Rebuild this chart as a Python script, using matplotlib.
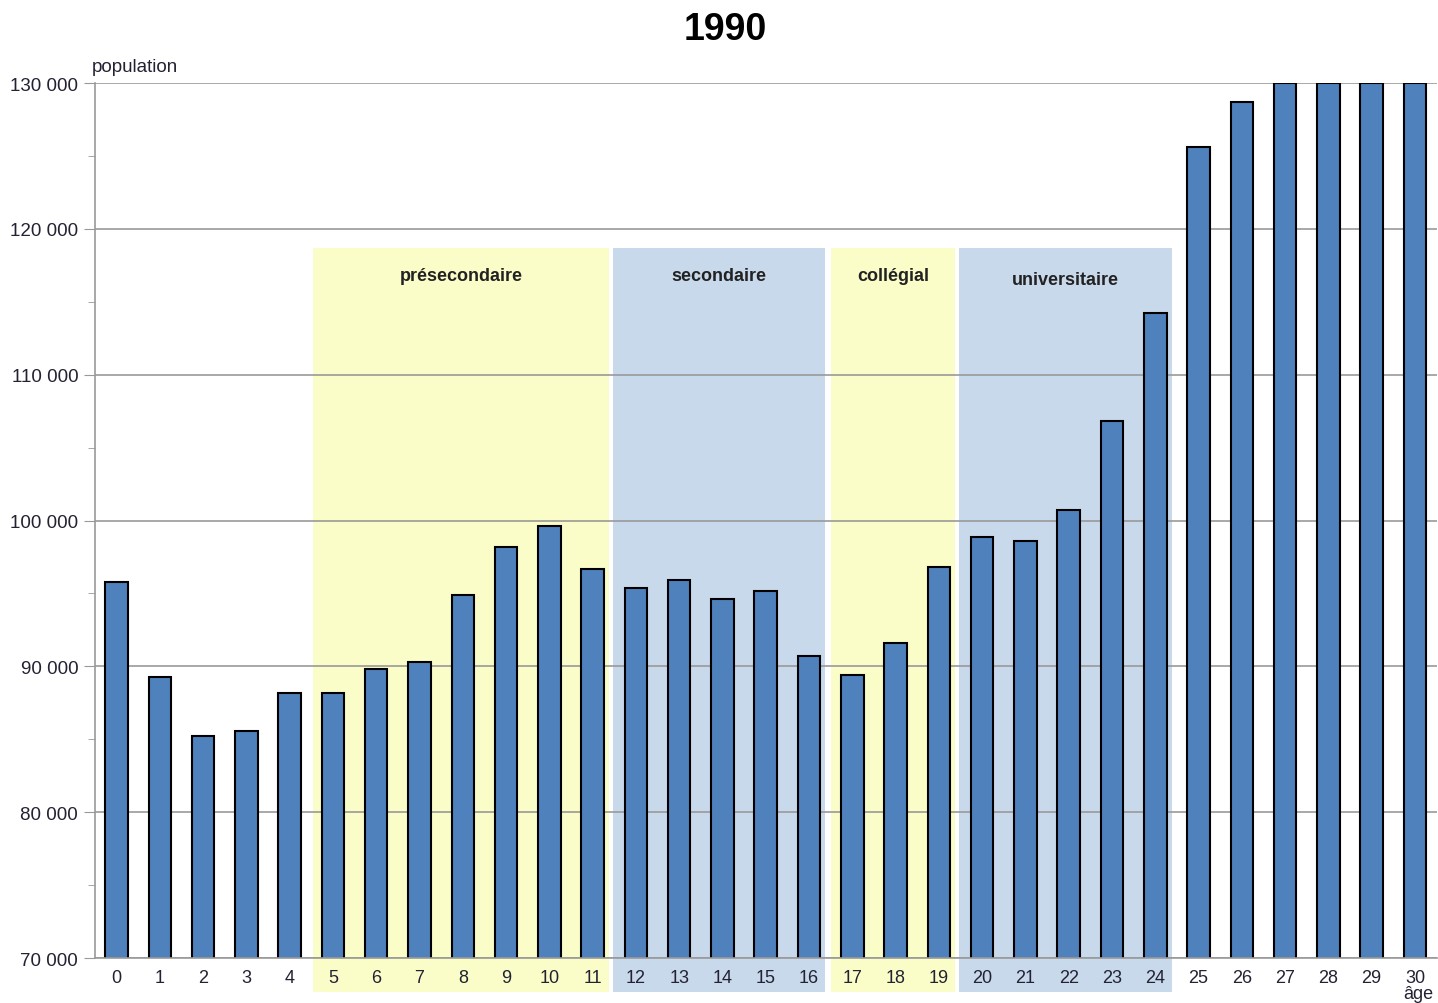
import matplotlib
matplotlib.use('Agg')
from matplotlib import pyplot as plt
from matplotlib.patches import Rectangle
from matplotlib.ticker import FuncFormatter, MultipleLocator

# data (population per age, 1990)
ages = list(range(31))
population = [95800, 89300, 85200, 85600, 88200, 88200, 89800, 90300, 94900,
              98200, 99600, 96700, 95400, 95900, 94600, 95200, 90700, 89400,
              91600, 96800, 98900, 98600, 100700, 106800, 114200, 125600,
              128700, 130000, 130000, 130000, 130000]

# school levels: label, first age, last age
levels = ['présecondaire', 'secondaire', 'collégial', 'universitaire']
level_start = [5, 12, 17, 20]
level_end = [11, 16, 19, 24]
level_colors = ['#fbfdc8', '#c9d9ec', '#fbfdc8', '#c9d9ec']
# how far each band reaches before the first bar
left_pad = [0.45, 0.54, 0.5, 0.54]

plt.rcParams['font.family'] = ['Liberation Sans', 'DejaVu Sans']

fig = plt.figure(figsize=(14.38, 10.04), dpi=100)
ax = fig.add_axes([0.066, 0.0448, 0.933, 0.8715])

ymin, ymax = 70000, 130000
band_top = 118700
band_bottom = 67700

# shaded bands behind the bars
for name, a, b, c, lp in zip(levels, level_start, level_end, level_colors, left_pad):
    x0 = a - lp
    x1 = b + 0.38
    rect = Rectangle((x0, band_bottom), x1 - x0, band_top - band_bottom,
                     facecolor=c, edgecolor='none', zorder=0, clip_on=False)
    ax.add_patch(rect)
    ty = 116500 if name == 'universitaire' else 116800
    ax.text((x0 + x1) / 2, ty, name, ha='center', va='center',
            fontsize=13, fontweight='bold', color='#222222', zorder=3)

ax.bar(ages, population, width=0.52, color='#4f81bd', edgecolor='black',
       linewidth=1.5, zorder=2)

ax.set_xlim(-0.5, 30.5)
ax.set_ylim(ymin, ymax)
ax.yaxis.set_major_locator(MultipleLocator(10000))
ax.yaxis.set_minor_locator(MultipleLocator(5000))
ax.yaxis.set_major_formatter(FuncFormatter(lambda v, p: '{:,}'.format(int(v)).replace(',', ' ')))
ax.set_xticks(ages)
ax.set_xticklabels([str(a) for a in ages])

ax.grid(axis='y', which='major', color='#999999', linewidth=1.2, zorder=1)
ax.set_axisbelow(True)
for s in ['top', 'right']:
    ax.spines[s].set_visible(False)
for s in ['left', 'bottom']:
    ax.spines[s].set_color('#999999')
    ax.spines[s].set_linewidth(1.2)

ax.tick_params(axis='y', which='major', length=8, color='#999999', labelsize=13.5,
               labelcolor='#222233', pad=4)
ax.tick_params(axis='y', which='minor', length=5, color='#999999')
ax.tick_params(axis='x', length=0, labelsize=13, labelcolor='#222233', pad=8)

fig.text(0.504, 0.970, '1990', ha='center', va='center', fontsize=27, fontweight='bold')
fig.text(0.064, 0.933, 'population', ha='left', va='center', fontsize=13.5, color='#222233')
fig.text(0.986, 0.009, 'âge', ha='center', va='center', fontsize=13, color='#222233')

fig.savefig('out.png', dpi=100)
